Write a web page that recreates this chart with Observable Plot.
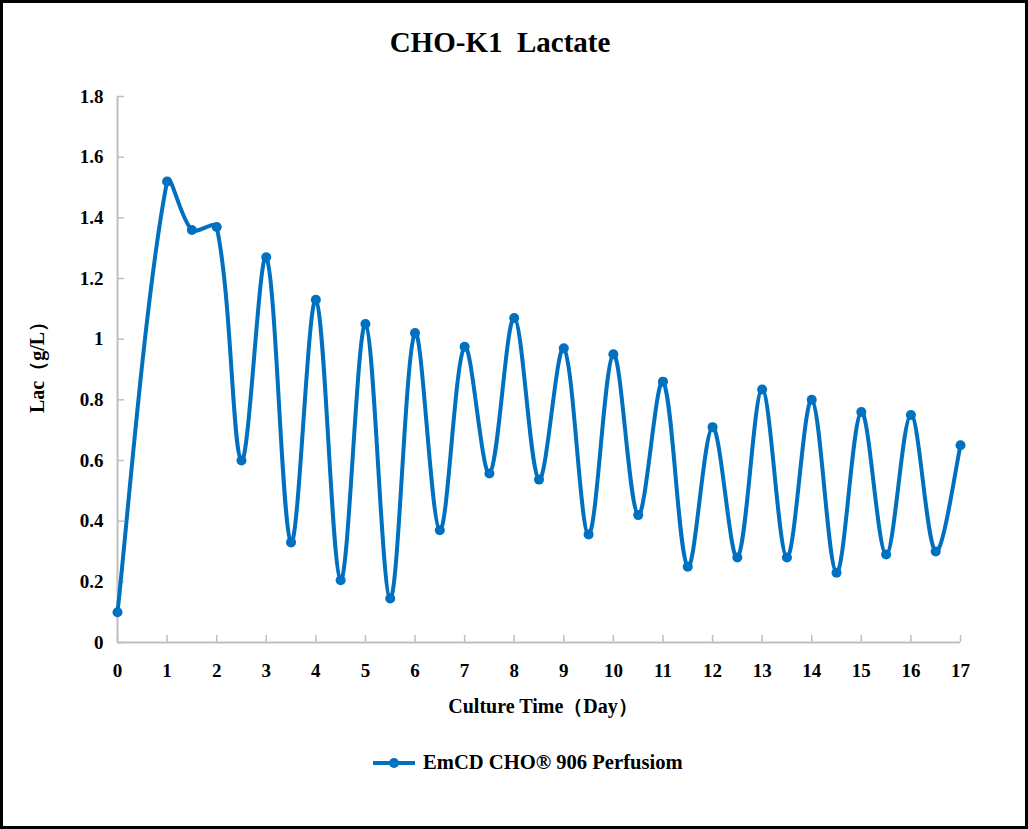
<!DOCTYPE html>
<html>
<head>
<meta charset="utf-8">
<script src="https://cdn.jsdelivr.net/npm/d3@7"></script>
<script src="https://cdn.jsdelivr.net/npm/@observablehq/plot@0.6"></script>
<style>
  html, body { margin: 0; padding: 0; background: #fff; }
  #page { position: relative; width: 1028px; height: 829px; overflow: hidden; background: #fff; }
  #frame { position: absolute; left: 0; top: 0; width: 1028px; height: 829px; box-sizing: border-box; border: 3px solid #000; pointer-events: none; }
  .serif { font-family: "Liberation Serif", "Times New Roman", serif; font-weight: bold; color: #000; }
  #title { position: absolute; top: 28px; left: 500px; transform: translateX(-50%); font-size: 29px; line-height: 29px; white-space: pre; }
  #chart { position: absolute; left: 0; top: 60px; }
  #legend { position: absolute; left: 372px; top: 752px; height: 21px; display: flex; align-items: center; font-size: 20.6px; line-height: 21px; white-space: pre; }
  #legend svg { margin-right: 7px; }
</style>
</head>
<body>
<div id="page">
  <div id="title" class="serif">CHO-K1  Lactate</div>
  <div id="chart"></div>
  <div id="legend" class="serif"></div>
  <div id="frame"></div>
</div>
<script>
const days = [0, 1, 1.5, 2, 2.5, 3, 3.5, 4, 4.5, 5, 5.5, 6, 6.5, 7, 7.5, 8, 8.5, 9, 9.5, 10, 10.5, 11, 11.5, 12, 12.5, 13, 13.5, 14, 14.5, 15, 15.5, 16, 16.5, 17];
const lactate = [0.10, 1.52, 1.36, 1.37, 0.60, 1.27, 0.33, 1.13, 0.205, 1.05, 0.145, 1.02, 0.37, 0.975, 0.557, 1.07, 0.537, 0.97, 0.356, 0.95, 0.42, 0.86, 0.25, 0.71, 0.28, 0.834, 0.28, 0.80, 0.23, 0.76, 0.29, 0.75, 0.30, 0.65];
const xTicks = d3.range(0, 18);
const yTicks = [0, 0.2, 0.4, 0.6, 0.8, 1, 1.2, 1.4, 1.6, 1.8];
const yTickLabels = ["0", "0.2", "0.4", "0.6", "0.8", "1", "1.2", "1.4", "1.6", "1.8"];
const seriesName = "EmCD CHO® 906 Perfusiom";
const xLabel = "Culture Time（Day）";
const yLabel = "Lac（g/L）";

const data = days.map((d, i) => ({day: d, lac: lactate[i]}));
const lineColor = "#0070C0";
const axisColor = "#BFBFBF";
const font = "'Liberation Serif', 'Times New Roman', serif";

// Spreadsheet-style smoothed line: Bezier segments whose handles are
// proportional to each segment's own length (no big overshoot on short segments).
function SmoothCurve(context) { this._context = context; }
SmoothCurve.prototype = {
  areaStart() { this._line = 0; },
  areaEnd() { this._line = NaN; },
  lineStart() { this._pts = []; },
  point(x, y) { this._pts.push([+x, +y]); },
  lineEnd() {
    const p = this._pts, n = p.length, ctx = this._context;
    if (!n) return;
    if (this._line === 0 || this._line === 1) ctx.lineTo(p[0][0], p[0][1]); else ctx.moveTo(p[0][0], p[0][1]);
    if (n === 2) ctx.lineTo(p[1][0], p[1][1]);
    if (n > 2) {
      const d = [];
      for (let i = 0; i < n - 1; ++i) d.push(Math.hypot(p[i + 1][0] - p[i][0], p[i + 1][1] - p[i][1]) || 1e-6);
      const tan = (i) => {
        if (i === 0) return [p[1][0] - p[0][0], p[1][1] - p[0][1], 0];
        if (i === n - 1) return [p[n - 1][0] - p[n - 2][0], p[n - 1][1] - p[n - 2][1], 0];
        return [p[i + 1][0] - p[i - 1][0], p[i + 1][1] - p[i - 1][1], 1];
      };
      for (let i = 0; i < n - 1; ++i) {
        const t0 = tan(i), t1 = tan(i + 1);
        const f0 = t0[2] ? d[i] / (d[i - 1] + d[i]) : 0.5;
        const f1 = t1[2] ? d[i] / (d[i] + d[i + 1]) : 0.5;
        const c1x = p[i][0] + t0[0] * f0 / 3, c1y = p[i][1] + t0[1] * f0 / 3;
        const c2x = p[i + 1][0] - t1[0] * f1 / 3, c2y = p[i + 1][1] - t1[1] * f1 / 3;
        ctx.bezierCurveTo(c1x, c1y, c2x, c2y, p[i + 1][0], p[i + 1][1]);
      }
    }
    this._line = 1 - (this._line || 0);
  }
};
const curveSmooth = (context) => new SmoothCurve(context);

const chart = Plot.plot({
  width: 1028,
  height: 680,
  marginLeft: 117,
  marginRight: 68,
  marginTop: 36,
  marginBottom: 98,
  style: {fontFamily: font, fontWeight: "bold", fontSize: "19px", color: "#000", background: "transparent", overflow: "visible"},
  x: {domain: [0, 17]},
  y: {domain: [0, 1.8]},
  marks: [
    Plot.axisX({ticks: xTicks, tickFormat: d => String(d), tickSize: -7, tickPadding: 28, stroke: axisColor, strokeWidth: 1.5, fill: "#000", label: null}),
    Plot.axisY({ticks: yTicks, tickFormat: d => yTickLabels[yTicks.indexOf(d)] ?? String(d), tickSize: -7, tickPadding: 21, stroke: axisColor, strokeWidth: 1.5, fill: "#000", label: null}),
    Plot.ruleY([0], {stroke: axisColor, strokeWidth: 2}),
    Plot.ruleX([0], {stroke: axisColor, strokeWidth: 2}),
    Plot.text([xLabel], {frameAnchor: "bottom", textAnchor: "middle", lineAnchor: "middle", dx: 4, dy: 64, fontSize: 20, fontWeight: "bold", fill: "#000"}),
    Plot.text([yLabel], {frameAnchor: "left", textAnchor: "middle", lineAnchor: "middle", dx: -80, dy: -7, rotate: -90, fontSize: 20, fontWeight: "bold", fill: "#000"}),
    Plot.line(data, {x: "day", y: "lac", stroke: lineColor, strokeWidth: 4, curve: curveSmooth}),
    Plot.dot(data, {x: "day", y: "lac", r: 5, fill: lineColor, stroke: "none"})
  ]
});
document.getElementById("chart").appendChild(chart);

const legend = document.getElementById("legend");
const ns = "http://www.w3.org/2000/svg";
const sw = document.createElementNS(ns, "svg");
sw.setAttribute("width", "44");
sw.setAttribute("height", "20");
const ln = document.createElementNS(ns, "line");
ln.setAttribute("x1", "1"); ln.setAttribute("x2", "43");
ln.setAttribute("y1", "10"); ln.setAttribute("y2", "10");
ln.setAttribute("stroke", lineColor); ln.setAttribute("stroke-width", "4");
sw.appendChild(ln);
const c = document.createElementNS(ns, "circle");
c.setAttribute("cx", "22"); c.setAttribute("cy", "10"); c.setAttribute("r", "5");
c.setAttribute("fill", lineColor);
sw.appendChild(c);
legend.appendChild(sw);
const span = document.createElement("span");
span.textContent = seriesName;
legend.appendChild(span);
</script>
</body>
</html>
